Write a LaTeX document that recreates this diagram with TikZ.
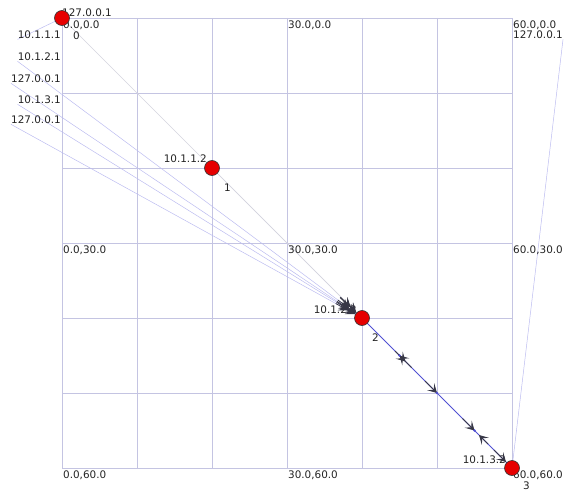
\documentclass[tikz,border=0pt]{standalone}
\usepackage{fontspec}
\setmainfont{DejaVu Sans}
\usepackage{xcolor}
\usepackage{tikz}
\usetikzlibrary{arrows.meta, calc, positioning}
\definecolor{gridline}{RGB}{196,196,226}
\definecolor{linkpale}{RGB}{188,188,240}
\definecolor{linkgray}{RGB}{212,212,222}
\definecolor{linkblue}{RGB}{80,80,210}
\definecolor{nodered}{RGB}{230,0,0}
\definecolor{pktgray}{RGB}{55,55,70}
\definecolor{txtgray}{RGB}{35,35,35}
\pgfdeclarelayer{background}
\pgfdeclarelayer{foreground}
\pgfsetlayers{background,main,foreground}

\begin{document}
\begin{tikzpicture}[x=1pt, y=-1pt,
    every node/.style={font=\fontsize{10.4}{11}\selectfont, text=txtgray, inner sep=0pt},
    simnode/.style={circle, draw=black!80, line width=0.6pt, fill=nodered, minimum size=15pt},
    gridlabel/.style={anchor=north west},
    paleline/.style={linkpale, line width=0.5pt},
    packet/.style={pktgray, line width=0.8pt, -{Stealth[length=9pt, width=10pt, inset=4.5pt]}}]
  \useasboundingbox (0,0) rectangle (573,500);

  % grid with coordinates
  \begin{pgfonlayer}{background}
    \foreach \i in {0,...,6} {
      \draw[gridline, line width=0.7pt] (62+75*\i,18) -- (62+75*\i,468);
      \draw[gridline, line width=0.7pt] (62,18+75*\i) -- (512,18+75*\i);
    }
  \end{pgfonlayer}
  \foreach \a/\gx in {0/0.0, 1/30.0, 2/60.0}
    \foreach \b/\gy in {0/0.0, 1/30.0, 2/60.0}
      \node[gridlabel] (g\a\b) at (63+225*\a, 21+225*\b) {\gx,\gy};

  % interface addresses
  \node[anchor=base west] (top127) at (62,17) {127.0.0.1};
  \node[anchor=base west] (id0) at (73,40) {0};
  \node[anchor=base east] (a111) at (61,39) {10.1.1.1};
  \node[anchor=base east] (a121) at (61,61) {10.1.2.1};
  \node[anchor=base east] (lo1) at (61,83) {127.0.0.1};
  \node[anchor=base east] (a131) at (61,104) {10.1.3.1};
  \node[anchor=base east] (lo2) at (61,124) {127.0.0.1};
  \node[anchor=base west] (lo3) at (513,39) {127.0.0.1};
  \node[anchor=base east] (a112) at (207,162) {10.1.1.2};
  \node[anchor=base west] (id1) at (224,191) {1};
  \node[anchor=base east] (a122) at (357,313) {10.1.2.2};
  \node[anchor=base west] (id2) at (372,341) {2};
  \node[anchor=base east] (a132) at (506,463) {10.1.3.2};
  \node[anchor=base west] (id3) at (523,489) {3};

  % nodes
  \node[simnode] (n0) at (62,18) {};
  \node[simnode] (n1) at (212,168) {};
  \node[simnode] (n2) at (362,318) {};
  \node[simnode] (n3) at (512,468) {};

  % links
  \begin{pgfonlayer}{background}
    \draw[paleline] (a111.south west) -- (n0.center);
    \draw[linkgray, line width=0.6pt] (n0.center) -- (n2.center);
    \draw[paleline] (a121.south west) -- (n2.center);
    \draw[paleline] (lo1.south west) -- (n2.center);
    \draw[paleline] (a131.south west) -- (n2.center);
    \draw[paleline] (lo2.south west) -- (n2.center);
    \draw[linkgray, line width=0.6pt] (n1.center) -- (n2.center);
    \draw[paleline] (lo3.south east) -- (n3.center);
    \draw[linkblue, line width=0.8pt] (n2.center) -- (n3.center);
  \end{pgfonlayer}

  % packets in flight
  \begin{pgfonlayer}{foreground}
    \foreach \src in {a121, lo1, a131, lo2, n0, n1} {
      \draw[packet] ($(n2.center)!30pt!(\src.south west)$) -- ($(n2.center)!16pt!(\src.south west)$);
      \draw[packet] ($(n2.center)!22pt!(\src.south west)$) -- ($(n2.center)!8pt!(\src.south west)$);
    }
    \draw[packet] ($(n2.center)!0.33!(n3.center)$) -- ($(n2.center)!0.25!(n3.center)$);
    \draw[packet] ($(n2.center)!0.22!(n3.center)$) -- ($(n2.center)!0.29!(n3.center)$);
    \draw[packet] ($(n2.center)!0.42!(n3.center)$) -- ($(n2.center)!0.50!(n3.center)$);
    \draw[packet] ($(n2.center)!0.67!(n3.center)$) -- ($(n2.center)!0.75!(n3.center)$);
    \draw[packet] ($(n2.center)!0.84!(n3.center)$) -- ($(n2.center)!0.78!(n3.center)$);
    \draw[packet] ($(n2.center)!0.88!(n3.center)$) -- ($(n2.center)!0.96!(n3.center)$);
    \foreach \f in {0.25, 0.5, 0.75}
      \fill[linkblue] ($(n2.center)!\f!(n3.center)$) circle (1.3pt);
  \end{pgfonlayer}
\end{tikzpicture}
\end{document}
